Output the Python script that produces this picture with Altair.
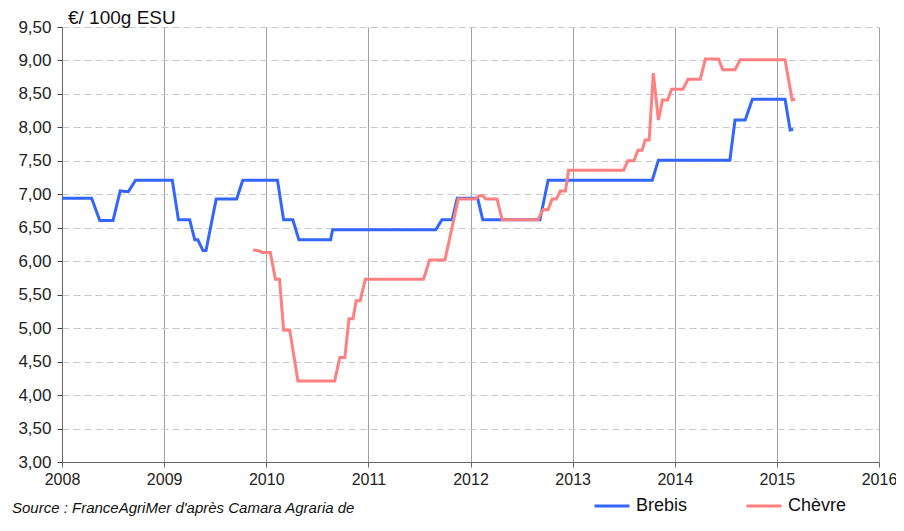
import altair as alt
import pandas as pd

# Brebis (sheep) price, €/100g ESU — decimal year / value breakpoints
brebis_t = [2008.00, 2008.29, 2008.37, 2008.50, 2008.57, 2008.65, 2008.72, 2009.08,
            2009.14, 2009.25, 2009.30, 2009.33, 2009.38, 2009.41, 2009.51, 2009.71,
            2009.77, 2010.11, 2010.17, 2010.26, 2010.32, 2010.63, 2010.65, 2011.66,
            2011.72, 2011.82, 2011.87, 2012.07, 2012.12, 2012.68, 2012.76, 2013.78,
            2013.84, 2014.54, 2014.59, 2014.69, 2014.76, 2015.08, 2015.13, 2015.16]
brebis_v = [6.94, 6.94, 6.61, 6.61, 7.05, 7.04, 7.21, 7.21,
            6.62, 6.62, 6.32, 6.32, 6.16, 6.16, 6.93, 6.93,
            7.21, 7.21, 6.62, 6.62, 6.32, 6.32, 6.47, 6.47,
            6.62, 6.62, 6.94, 6.94, 6.62, 6.62, 7.21, 7.21,
            7.51, 7.51, 8.11, 8.11, 8.42, 8.42, 7.96, 7.97]

# Chèvre (goat) price
chevre_t = [2009.87, 2009.94, 2009.96, 2010.04, 2010.09, 2010.13, 2010.17, 2010.23,
            2010.31, 2010.67, 2010.72, 2010.77, 2010.81, 2010.85, 2010.88, 2010.92,
            2010.97, 2011.54, 2011.60, 2011.75, 2011.88, 2012.05, 2012.08, 2012.12,
            2012.15, 2012.26, 2012.31, 2012.66, 2012.71, 2012.76, 2012.80, 2012.84,
            2012.88, 2012.93, 2012.96, 2013.50, 2013.54, 2013.60, 2013.64, 2013.68,
            2013.71, 2013.75, 2013.79, 2013.84, 2013.88, 2013.93, 2013.97, 2014.08,
            2014.13, 2014.25, 2014.30, 2014.43, 2014.47, 2014.59, 2014.64, 2015.08,
            2015.15, 2015.18]
chevre_v = [6.17, 6.15, 6.13, 6.13, 5.73, 5.73, 4.97, 4.97,
            4.21, 4.21, 4.56, 4.56, 5.14, 5.14, 5.41, 5.41,
            5.73, 5.73, 6.02, 6.02, 6.93, 6.93, 6.98, 6.98,
            6.93, 6.93, 6.62, 6.62, 6.77, 6.77, 6.93, 6.93,
            7.05, 7.05, 7.36, 7.36, 7.50, 7.50, 7.66, 7.66,
            7.81, 7.81, 8.81, 8.11, 8.41, 8.41, 8.57, 8.57,
            8.72, 8.72, 9.02, 9.02, 8.86, 8.86, 9.01, 9.01,
            8.41, 8.42]

series_names = ["Brebis", "Chèvre"]
series_colors = ["#3366FF", "#FF8080"]
x_ticks = list(range(2008, 2017))
y_ticks = [3.0 + 0.5 * i for i in range(14)]

unit_label = "€/ 100g ESU"
source_label = "Source : FranceAgriMer d'après Camara Agraria de"

df = pd.concat([
    pd.DataFrame({"t": brebis_t, "v": brebis_v, "s": "Brebis", "o": range(len(brebis_t))}),
    pd.DataFrame({"t": chevre_t, "v": chevre_v, "s": "Chèvre", "o": range(len(chevre_t))}),
])

FONT = "Liberation Sans"

lines = alt.Chart(df).mark_line(strokeWidth=3, interpolate="linear").encode(
    x=alt.X("t:Q", scale=alt.Scale(domain=[2008, 2016], nice=False, zero=False),
            axis=alt.Axis(values=x_ticks, format="d", title=None, grid=True,
                          gridColor="#a0a0a0", gridWidth=1, gridOpacity=1,
                          domainColor="#666666", tickColor="#666666", tickSize=5,
                          labelFontSize=16, labelColor="#222222", labelFont=FONT,
                          labelPadding=4, labelFlush=False)),
    y=alt.Y("v:Q", scale=alt.Scale(domain=[3, 9.5], nice=False, zero=False),
            axis=alt.Axis(values=y_ticks, title=None, grid=True,
                          labelExpr="replace(format(datum.value, '.2f'), '.', ',')",
                          gridColor="#c8c8c8", gridDash=[7, 4], gridWidth=1,
                          domainColor="#666666", tickColor="#444444", tickSize=5,
                          labelFontSize=17, labelColor="#222222", labelFont=FONT,
                          labelPadding=6)),
    color=alt.Color("s:N", scale=alt.Scale(domain=series_names, range=series_colors),
                    legend=alt.Legend(title=None, orient="none", direction="horizontal",
                                      legendX=531, legendY=460, symbolType="stroke",
                                      symbolSize=1225, symbolStrokeWidth=3,
                                      labelFontSize=18, labelFont=FONT, labelColor="#111111",
                                      labelOffset=5, columnPadding=52, padding=0)),
    order="o:Q",
)

title_txt = alt.Chart(pd.DataFrame({"txt": [unit_label]})).mark_text(
    align="left", baseline="alphabetic", fontSize=19, font=FONT, color="#111111"
).encode(text="txt:N", x=alt.value(6), y=alt.value(-3))

source_txt = alt.Chart(pd.DataFrame({"txt": [source_label]})).mark_text(
    align="left", baseline="alphabetic", fontSize=15, font=FONT, fontStyle="italic",
    color="#111111"
).encode(text="txt:N", x=alt.value(-50), y=alt.value(486))

chart = alt.layer(lines, title_txt, source_txt).properties(
    width=817, height=435,
    autosize=alt.AutoSizeParams(type="none"),
    padding={"left": 54, "top": 19, "right": 17, "bottom": 55},
).configure_view(stroke=None).configure_axis(domainWidth=1)

chart.save("out.html", embed_options={"renderer": "svg", "actions": False})
